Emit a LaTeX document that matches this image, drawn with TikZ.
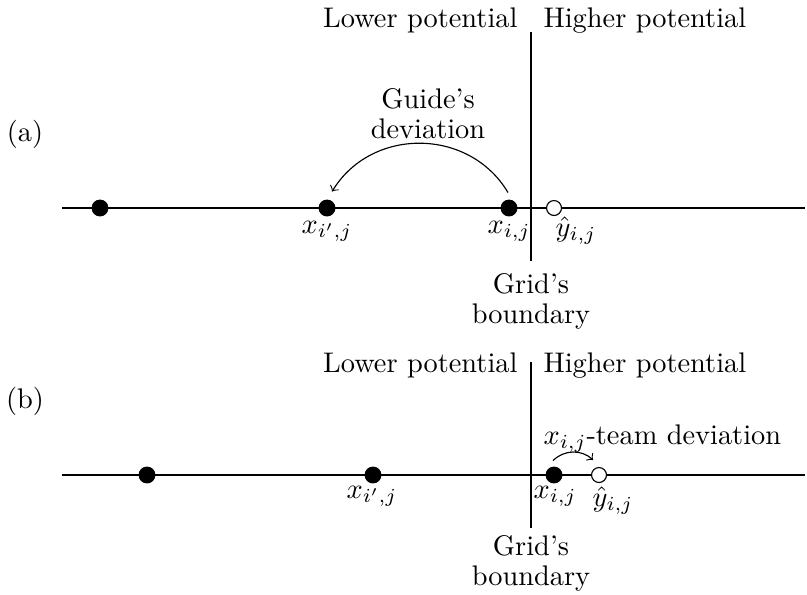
\documentclass[tikz,border=0pt]{standalone}
\begin{document}
\begin{tikzpicture}[x=0.012392cm,y=-0.012392cm,
  fdot/.style={circle,fill=black,draw=black,inner sep=0pt,minimum size=1.95mm},
  odot/.style={circle,draw=black,fill=white,inner sep=0pt,minimum size=1.85mm},
  txt/.style={anchor=base,inner sep=0pt},
  twoline/.style={anchor=base,inner sep=0pt,align=center}]
\useasboundingbox (0,0) rectangle (807,594);
% ---------- (a) ----------
\node[txt] (la) at (25,141) {(a)};
\coordinate (ha1) at (62,208);
\coordinate (ha2) at (805,208);
\draw (ha1) -- (ha2);
\coordinate (va1) at (531,32);
\coordinate (va2) at (531,261);
\draw (va1) -- (va2);
\node[txt,anchor=base east] (lpa) at (518,27) {Lower potential};
\node[txt,anchor=base west] (hpa) at (543,27) {Higher potential};
\node[fdot] (a0) at (100,208) {};
\node[fdot] (a1) at (327,208) {};
\node[fdot] (a2) at (509,208) {};
\node[odot] (a3) at (554,208) {};
\node[txt] (a1l) at (327,233) {$x_{i',j}$};
\node[txt] (a2l) at (509,233) {$x_{i,j}$};
\node[txt] (a3l) at (576,236) {$\hat{y}_{i,j}$};
\node[twoline] (gd) at (428,138) {Guide's\\[-1.5pt]deviation};
\node[twoline] (gba) at (531,323) {Grid's\\[-1.5pt]boundary};
\draw[->] ([shift={(-1,-7)}]a2.north) to[bend right=59,looseness=1.1] ([shift={(5,-8)}]a1.north);
% ---------- (b) ----------
\node[txt] (lb) at (25,408) {(b)};
\coordinate (hb1) at (62,475);
\coordinate (hb2) at (805,475);
\draw (hb1) -- (hb2);
\coordinate (vb1) at (531,362);
\coordinate (vb2) at (531,528);
\draw (vb1) -- (vb2);
\node[txt,anchor=base east] (lpb) at (518,372) {Lower potential};
\node[txt,anchor=base west] (hpb) at (543,372) {Higher potential};
\node[fdot] (b0) at (147,475) {};
\node[fdot] (b1) at (373,475) {};
\node[fdot] (b2) at (554,475) {};
\node[odot] (b3) at (599,475) {};
\node[txt] (b1l) at (372,498) {$x_{i',j}$};
\node[txt] (b2l) at (555,498) {$x_{i,j}$};
\node[txt] (b3l) at (613,506) {$\hat{y}_{i,j}$};
\node[txt,anchor=base west] (td) at (543,444) {$x_{i,j}$-team deviation};
\node[twoline] (gbb) at (531,585) {Grid's\\[-1.5pt]boundary};
\draw[->] ([shift={(-1,-6)}]b2.north) to[bend left=44] ([shift={(-6,-7)}]b3.north);
\end{tikzpicture}
\end{document}
